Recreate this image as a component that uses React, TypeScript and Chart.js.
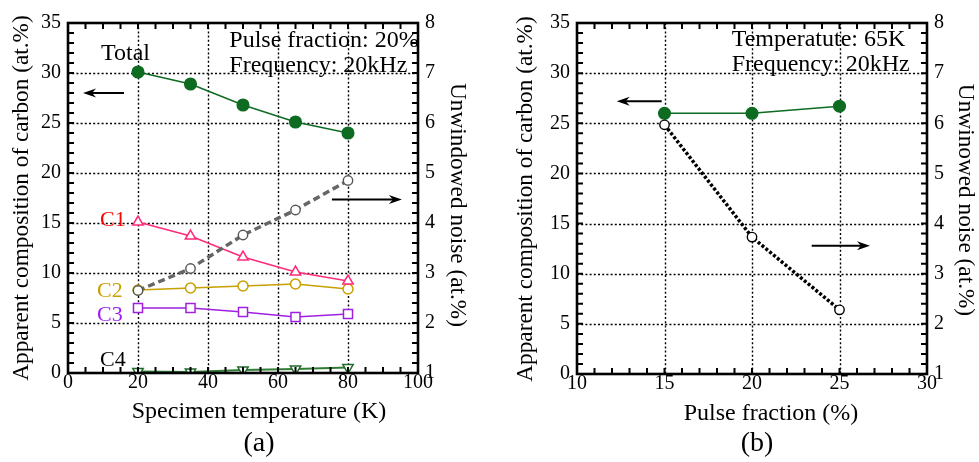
import React, { useEffect, useRef } from 'react';
import { Chart, registerables } from 'chart.js';

Chart.register(...registerables);

const FONT = '"Liberation Serif", "Times New Roman", serif';

// ---------- panel (a) data ----------
const temperatureK = [20, 35, 50, 65, 80];
const totalA = [30.1, 28.9, 26.8, 25.1, 24.0];
const c1A = [15.1, 13.7, 11.6, 10.1, 9.2];
const c2A = [8.3, 8.5, 8.7, 8.9, 8.4];
const c3A = [6.5, 6.5, 6.1, 5.6, 5.9];
const c4A = [0.15, 0.1, 0.3, 0.4, 0.55];
const noiseA = [2.65, 3.09, 3.76, 4.26, 4.85];

// ---------- panel (b) data ----------
const pulseFraction = [15, 20, 25];
const totalB = [26.0, 26.0, 26.7];
const noiseB = [5.97, 3.73, 2.28];

// ---------- tick labels ----------
const xTicksA = [0, 20, 40, 60, 80, 100];
const xTicksB = [10, 15, 20, 25, 30];
const compTicks = [0, 5, 10, 15, 20, 25, 30, 35];
const noiseTicks = [1, 2, 3, 4, 5, 6, 7, 8];

type Txt = { text: string; x: number; y: number; size: number; color?: string };
type Arrow = { x1: number; x2: number; y: number };
type Title = { text: string; x: number; y: number; size: number; rot: number; base?: CanvasTextBaseline };

type Deco = {
  xTicks: number[];
  xMinor: number;
  texts: Txt[];
  arrows: Arrow[];
  titles: Title[];
};

function pts(xs: number[], ys: number[]) {
  return xs.map((x, i) => ({ x, y: ys[i] }));
}

function makePlugin(d: Deco) {
  return {
    id: 'deco',
    beforeDatasetsDraw(chart: any) {
      const { ctx, chartArea: a, scales } = chart;
      const xs = scales.x;
      const ys = scales.y;
      ctx.save();
      ctx.strokeStyle = '#000';
      ctx.lineWidth = 1.4;
      ctx.setLineDash([2, 2.2]);
      for (const v of d.xTicks) {
        if (v <= xs.min || v >= xs.max) continue;
        const px = Math.round(xs.getPixelForValue(v)) + 0.5;
        ctx.beginPath();
        ctx.moveTo(px, a.top);
        ctx.lineTo(px, a.bottom);
        ctx.stroke();
      }
      for (const v of compTicks) {
        if (v <= ys.min || v >= ys.max) continue;
        const py = Math.round(ys.getPixelForValue(v)) + 0.5;
        ctx.beginPath();
        ctx.moveTo(a.left, py);
        ctx.lineTo(a.right, py);
        ctx.stroke();
      }
      ctx.restore();
    },
    afterDatasetsDraw(chart: any) {
      const { ctx, chartArea: a, scales } = chart;
      const xs = scales.x;
      const ys = scales.y;
      const ys1 = scales.y1;
      ctx.save();
      ctx.strokeStyle = '#000';
      ctx.lineWidth = 2;
      const L = 6;
      ctx.beginPath();
      for (let v = xs.min; v <= xs.max + 1e-9; v += d.xMinor) {
        const px = xs.getPixelForValue(v);
        ctx.moveTo(px, a.bottom);
        ctx.lineTo(px, a.bottom - L);
        ctx.moveTo(px, a.top);
        ctx.lineTo(px, a.top + L);
      }
      for (let v = ys.min; v <= ys.max + 1e-9; v += 1) {
        const py = ys.getPixelForValue(v);
        ctx.moveTo(a.left, py);
        ctx.lineTo(a.left + L, py);
      }
      for (let v = ys1.min; v <= ys1.max + 1e-9; v += 0.2) {
        const py = ys1.getPixelForValue(v);
        ctx.moveTo(a.right, py);
        ctx.lineTo(a.right - L, py);
      }
      ctx.stroke();
      ctx.lineWidth = 2.6;
      ctx.strokeRect(a.left, a.top, a.right - a.left, a.bottom - a.top);
      ctx.restore();
    },
    afterDraw(chart: any) {
      const { ctx, scales } = chart;
      const xs = scales.x;
      const ys = scales.y;
      ctx.save();
      ctx.textBaseline = 'alphabetic';
      ctx.textAlign = 'left';
      for (const t of d.texts) {
        ctx.font = `${t.size}px ${FONT}`;
        ctx.fillStyle = t.color || '#000';
        ctx.fillText(t.text, xs.getPixelForValue(t.x), ys.getPixelForValue(t.y));
      }
      ctx.strokeStyle = '#000';
      ctx.fillStyle = '#000';
      ctx.lineWidth = 2;
      for (const ar of d.arrows) {
        const x1 = xs.getPixelForValue(ar.x1);
        const x2 = xs.getPixelForValue(ar.x2);
        const y = ys.getPixelForValue(ar.y);
        const dir = x2 > x1 ? 1 : -1;
        ctx.beginPath();
        ctx.moveTo(x1, y);
        ctx.lineTo(x2 - dir * 8, y);
        ctx.stroke();
        ctx.beginPath();
        ctx.moveTo(x2, y);
        ctx.lineTo(x2 - dir * 13, y - 4.5);
        ctx.lineTo(x2 - dir * 9, y);
        ctx.lineTo(x2 - dir * 13, y + 4.5);
        ctx.closePath();
        ctx.fill();
      }
      ctx.fillStyle = '#000';
      ctx.textAlign = 'center';
      for (const t of d.titles) {
        ctx.save();
        ctx.font = `${t.size}px ${FONT}`;
        ctx.textBaseline = t.base || 'middle';
        ctx.translate(t.x, t.y);
        ctx.rotate(t.rot);
        ctx.fillText(t.text, 0, 0);
        ctx.restore();
      }
      ctx.restore();
    },
  };
}

const tickFont = { family: FONT, size: 20, lineHeight: 1 };

function scalesFor(xTicks: number[], xmin: number, xmax: number, xH: number, lW: number, rW: number) {
  return {
    x: {
      type: 'linear',
      min: xmin,
      max: xmax,
      afterBuildTicks: (s: any) => {
        s.ticks = xTicks.map((v) => ({ value: v }));
      },
      afterFit: (s: any) => {
        s.height = xH;
      },
      grid: { display: false, drawTicks: false },
      border: { display: false },
      ticks: { font: tickFont, color: '#000', padding: 0, autoSkip: false, maxRotation: 0 },
    },
    y: {
      type: 'linear',
      position: 'left',
      min: 0,
      max: 35,
      afterBuildTicks: (s: any) => {
        s.ticks = compTicks.map((v) => ({ value: v }));
      },
      afterFit: (s: any) => {
        s.width = lW;
      },
      grid: { display: false, drawTicks: false },
      border: { display: false },
      ticks: { font: tickFont, color: '#000', padding: 7, autoSkip: false },
    },
    y1: {
      type: 'linear',
      position: 'right',
      min: 1,
      max: 8,
      afterBuildTicks: (s: any) => {
        s.ticks = noiseTicks.map((v) => ({ value: v }));
      },
      afterFit: (s: any) => {
        s.width = rW;
      },
      grid: { display: false, drawTicks: false },
      border: { display: false },
      ticks: { font: tickFont, color: '#000', padding: 7, autoSkip: false },
    },
  };
}

const GREEN = '#0d6b22';

function configA(): any {
  const deco: Deco = {
    xTicks: xTicksA,
    xMinor: 5,
    texts: [
      { text: 'Total', x: 9.43, y: 31.3, size: 24 },
      { text: 'Pulse fraction: 20%', x: 46.1, y: 32.6, size: 24 },
      { text: 'Frequency: 20kHz', x: 46.1, y: 30.15, size: 24 },
      { text: 'C1', x: 9.14, y: 14.75, size: 22, color: '#ff0000' },
      { text: 'C2', x: 8.29, y: 7.63, size: 22, color: '#c8a000' },
      { text: 'C3', x: 8.29, y: 5.23, size: 22, color: '#a020f0' },
      { text: 'C4', x: 9.14, y: 0.73, size: 22, color: '#000' },
    ],
    arrows: [
      { x1: 16, x2: 4.3, y: 28 },
      { x1: 75.4, x2: 95.4, y: 17.35 },
    ],
    titles: [
      { text: 'Apparent composition of carbon (at.%)', x: 22, y: 198, size: 23.3, rot: -Math.PI / 2 },
      { text: 'Unwindowed noise (at.%)', x: 457, y: 205, size: 23.3, rot: Math.PI / 2 },
      { text: 'Specimen temperature (K)', x: 259, y: 418, size: 24, rot: 0, base: 'alphabetic' },
      { text: '(a)', x: 259, y: 444, size: 28, rot: 0 },
    ],
  };
  return {
    type: 'line',
    data: {
      datasets: [
        {
          data: pts(temperatureK, noiseA),
          yAxisID: 'y1',
          borderColor: '#666666',
          borderWidth: 3.5,
          borderDash: [7, 4],
          pointStyle: 'circle',
          pointRadius: 4.7,
          pointBackgroundColor: '#ffffff',
          pointBorderColor: '#555555',
          pointBorderWidth: 1.4,
        },
        {
          data: pts(temperatureK, totalA),
          yAxisID: 'y',
          borderColor: GREEN,
          borderWidth: 1.5,
          pointStyle: 'circle',
          pointRadius: 5.8,
          pointBackgroundColor: GREEN,
          pointBorderColor: GREEN,
        },
        {
          data: pts(temperatureK, c1A),
          yAxisID: 'y',
          borderColor: '#ff2a7a',
          borderWidth: 1.5,
          pointStyle: 'triangle',
          pointRadius: 6,
          pointBackgroundColor: '#ffffff',
          pointBorderColor: '#ff2a7a',
          pointBorderWidth: 1.5,
        },
        {
          data: pts(temperatureK, c2A),
          yAxisID: 'y',
          borderColor: '#c8a000',
          borderWidth: 1.5,
          pointStyle: 'circle',
          pointRadius: 5,
          pointBackgroundColor: '#ffffff',
          pointBorderColor: '#c8a000',
          pointBorderWidth: 1.5,
        },
        {
          data: pts(temperatureK, c3A),
          yAxisID: 'y',
          borderColor: '#a020e0',
          borderWidth: 1.5,
          pointStyle: 'rect',
          pointRadius: 6.4,
          pointBackgroundColor: '#ffffff',
          pointBorderColor: '#a020e0',
          pointBorderWidth: 1.5,
        },
        {
          data: pts(temperatureK, c4A),
          yAxisID: 'y',
          borderColor: '#2e7d32',
          borderWidth: 2,
          pointStyle: 'triangle',
          pointRotation: 180,
          pointRadius: 6,
          pointBackgroundColor: '#ffffff',
          pointBorderColor: '#1f6b2a',
          pointBorderWidth: 1.5,
        },
      ],
    },
    options: {
      animation: false,
      responsive: false,
      devicePixelRatio: 1,
      layout: { padding: { top: 23, left: 0, right: 0, bottom: 0 } },
      plugins: { legend: { display: false }, tooltip: { enabled: false } },
      scales: scalesFor(xTicksA, 0, 100, 89, 68, 72),
    },
    plugins: [makePlugin(deco)],
  };
}

function configB(): any {
  const deco: Deco = {
    xTicks: xTicksB,
    xMinor: 1,
    texts: [
      { text: 'Temperatute: 65K', x: 18.84, y: 32.7, size: 24 },
      { text: 'Frequency: 20kHz', x: 18.84, y: 30.25, size: 24 },
    ],
    arrows: [
      { x1: 14.84, x2: 12.27, y: 27.2 },
      { x1: 23.41, x2: 26.74, y: 12.8 },
    ],
    titles: [
      { text: 'Apparent composition of carbon (at.%)', x: 35.5, y: 199, size: 23.3, rot: -Math.PI / 2 },
      { text: 'Unwinowed noise (at.%)', x: 475.5, y: 200, size: 23.3, rot: Math.PI / 2 },
      { text: 'Pulse fraction (%)', x: 281, y: 420, size: 24, rot: 0, base: 'alphabetic' },
      { text: '(b)', x: 267, y: 444, size: 28, rot: 0 },
    ],
  };
  return {
    type: 'line',
    data: {
      datasets: [
        {
          data: pts(pulseFraction, noiseB),
          yAxisID: 'y1',
          borderColor: '#000000',
          borderWidth: 3.5,
          borderDash: [3, 2],
          pointStyle: 'circle',
          pointRadius: 4.7,
          pointBackgroundColor: '#ffffff',
          pointBorderColor: '#000000',
          pointBorderWidth: 1.4,
        },
        {
          data: pts(pulseFraction, totalB),
          yAxisID: 'y',
          borderColor: GREEN,
          borderWidth: 1.5,
          pointStyle: 'circle',
          pointRadius: 5.8,
          pointBackgroundColor: GREEN,
          pointBorderColor: GREEN,
        },
      ],
    },
    options: {
      animation: false,
      responsive: false,
      devicePixelRatio: 1,
      layout: { padding: { top: 23, left: 0, right: 0, bottom: 0 } },
      plugins: { legend: { display: false }, tooltip: { enabled: false } },
      scales: scalesFor(xTicksB, 10, 30, 88, 87, 52),
    },
    plugins: [makePlugin(deco)],
  };
}

export default function App() {
  const refA = useRef<HTMLCanvasElement | null>(null);
  const refB = useRef<HTMLCanvasElement | null>(null);
  useEffect(() => {
    const a = new Chart(refA.current as HTMLCanvasElement, configA());
    const b = new Chart(refB.current as HTMLCanvasElement, configB());
    return () => {
      a.destroy();
      b.destroy();
    };
  }, []);
  return (
    <div style={{ position: 'fixed', left: 0, top: 0, width: 979, height: 462, background: '#fff' }}>
      <canvas ref={refA} width={490} height={462} style={{ position: 'absolute', left: 0, top: 0, width: 490, height: 462 }} />
      <canvas ref={refB} width={489} height={462} style={{ position: 'absolute', left: 490, top: 0, width: 489, height: 462 }} />
    </div>
  );
}
